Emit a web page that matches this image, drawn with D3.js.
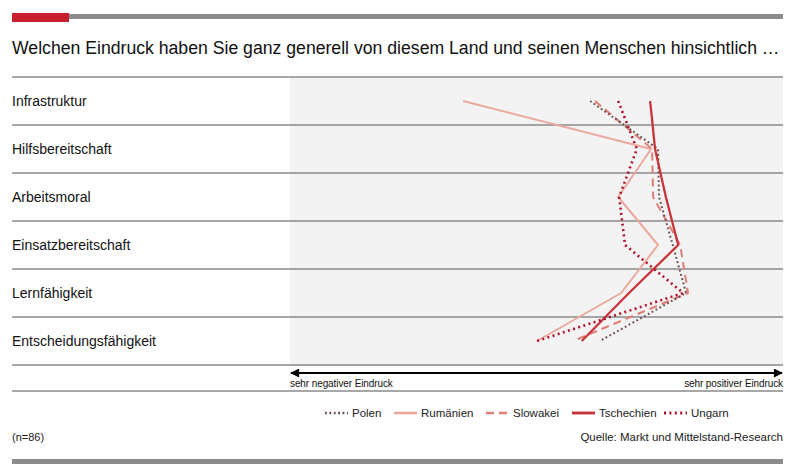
<!DOCTYPE html>
<html>
<head>
<meta charset="utf-8">
<script src="https://cdn.jsdelivr.net/npm/d3@7"></script>
<style>
  html, body { margin: 0; padding: 0; background: #fff; }
  svg { display: block; font-family: "Liberation Sans", Arial, sans-serif; }
</style>
</head>
<body>
<svg id="chart" width="800" height="476"></svg>
<script>
  // ─── Data ───
  const categories = ['Infrastruktur', 'Hilfsbereitschaft', 'Arbeitsmoral', 'Einsatzbereitschaft', 'Lernfähigkeit', 'Entscheidungsfähigkeit'];
  // Position on the scale 0 = sehr negativer Eindruck, 100 = sehr positiver Eindruck
  const polen      = [61.0, 74.8, 75.0, 77.8, 80.5, 63.0];
  const rumaenien  = [35.2, 73.4, 66.7, 74.8, 67.3, 50.2];
  const slowakei   = [62.0, 73.6, 73.8, 79.3, 80.9, 57.5];
  const tschechien = [73.2, 74.2, 76.4, 78.9, 68.9, 59.3];
  const ungarn     = [66.7, 70.5, 66.9, 68.1, 79.9, 50.2];
  const seriesNames = ['Polen', 'Rumänien', 'Slowakei', 'Tschechien', 'Ungarn'];
  const axisLabels = ['sehr negativer Eindruck', 'sehr positiver Eindruck'];

  const title = 'Welchen Eindruck haben Sie ganz generell von diesem Land und seinen Menschen hinsichtlich …';

  // line styles per series
  const styles = {
    'Polen':      { color: '#6a4c4c', width: 2,   dash: '1.8,2.6' },
    'Rumänien':   { color: '#eba99d', width: 2,   dash: null },
    'Slowakei':   { color: '#e07f78', width: 2,   dash: '8,5' },
    'Tschechien': { color: '#c9343b', width: 2.3, dash: null },
    'Ungarn':     { color: '#b3122d', width: 2.6, dash: '2,3.4' }
  };
  const seriesValues = { 'Polen': polen, 'Rumänien': rumaenien, 'Slowakei': slowakei, 'Tschechien': tschechien, 'Ungarn': ungarn };
  const drawOrder = ['Rumänien', 'Slowakei', 'Polen', 'Tschechien', 'Ungarn'];

  const svg = d3.select('#chart');
  const edgeL = 12, edgeR = 783, plotL = 290;
  const rowsTop = 77, rowH = 48;

  // ─── Header ───
  svg.append('rect').attr('x', edgeL).attr('y', 14).attr('width', edgeR - edgeL).attr('height', 5).attr('fill', '#8c8c8c');
  svg.append('rect').attr('x', edgeL).attr('y', 13).attr('width', 57).attr('height', 9).attr('fill', '#c8202f');

  const titleText = svg.append('text')
    .attr('x', edgeL).attr('y', 54)
    .attr('font-size', 16).attr('fill', '#111')
    .text(title);
  const tw = titleText.node().getComputedTextLength();
  titleText.attr('font-size', 16 * 768 / tw);

  // ─── Scales ───
  const y = d3.scaleBand().domain(categories).range([rowsTop, rowsTop + rowH * categories.length]);
  const x = d3.scaleLinear().domain([0, 100]).range([plotL, 782]);

  // background panel
  svg.append('rect')
    .attr('x', plotL).attr('y', rowsTop)
    .attr('width', edgeR - plotL).attr('height', y.range()[1] - rowsTop + 1)
    .attr('fill', '#f3f3f3');

  // row separators
  const sepY = [rowsTop].concat(categories.map(c => y(c) + y.bandwidth()));
  svg.selectAll('line.sep').data(sepY).enter().append('line')
    .attr('class', 'sep')
    .attr('x1', edgeL).attr('x2', edgeR)
    .attr('y1', d => d).attr('y2', d => d)
    .attr('stroke', '#8a8a8a').attr('stroke-width', 1.5);

  // row labels
  svg.selectAll('text.cat').data(categories).enter().append('text')
    .attr('class', 'cat')
    .attr('x', edgeL).attr('y', d => y(d) + y.bandwidth() / 2 + 5)
    .attr('font-size', 14).attr('fill', '#111')
    .text(d => d);

  // ─── Lines ───
  const line = d3.line()
    .x(d => x(d.v))
    .y(d => y(d.c) + y.bandwidth() / 2);

  drawOrder.forEach(name => {
    const st = styles[name];
    const pts = seriesValues[name].map((v, i) => ({ c: categories[i], v: v }));
    svg.append('path')
      .datum(pts)
      .attr('d', line)
      .attr('fill', 'none')
      .attr('stroke', st.color)
      .attr('stroke-width', st.width)
      .attr('stroke-dasharray', st.dash)
      .attr('stroke-linejoin', 'round');
  });

  // ─── Axis arrow ───
  const axisY = 373;
  const defs = svg.append('defs');
  defs.append('marker')
    .attr('id', 'arrow').attr('viewBox', '0 0 10 10')
    .attr('refX', 9).attr('refY', 5)
    .attr('markerWidth', 6).attr('markerHeight', 5)
    .attr('markerUnits', 'strokeWidth')
    .attr('orient', 'auto-start-reverse')
    .append('path').attr('d', 'M0,0 L10,5 L0,10 z').attr('fill', '#000');

  svg.append('line')
    .attr('x1', x(0) + 1).attr('x2', edgeR - 1)
    .attr('y1', axisY).attr('y2', axisY)
    .attr('stroke', '#000').attr('stroke-width', 1.8)
    .attr('marker-start', 'url(#arrow)').attr('marker-end', 'url(#arrow)');

  svg.append('text').attr('x', x(0)).attr('y', 387)
    .attr('font-size', 10).attr('letter-spacing', -0.1).attr('fill', '#111')
    .text(axisLabels[0]);
  svg.append('text').attr('x', edgeR).attr('y', 387)
    .attr('text-anchor', 'end')
    .attr('font-size', 10).attr('letter-spacing', -0.1).attr('fill', '#111')
    .text(axisLabels[1]);

  svg.append('line')
    .attr('x1', edgeL).attr('x2', edgeR).attr('y1', 391).attr('y2', 391)
    .attr('stroke', '#8a8a8a').attr('stroke-width', 1.5);

  // ─── Legend ───
  const legendX = [325, 394, 486, 572, 664];
  const legend = svg.selectAll('g.leg').data(seriesNames).enter().append('g')
    .attr('class', 'leg')
    .attr('transform', (d, i) => `translate(${legendX[i]},413)`);
  legend.append('line')
    .attr('x1', 0).attr('x2', 23).attr('y1', 0).attr('y2', 0)
    .attr('stroke', d => styles[d].color)
    .attr('stroke-width', d => styles[d].width + 0.6)
    .attr('stroke-dasharray', d => styles[d].dash);
  legend.append('text')
    .attr('x', 27).attr('y', 4)
    .attr('font-size', 11.5).attr('fill', '#222')
    .text(d => d);

  // ─── Footer ───
  svg.append('text').attr('x', edgeL).attr('y', 441)
    .attr('font-size', 11).attr('fill', '#222').text('(n=86)');
  svg.append('text').attr('x', edgeR).attr('y', 441)
    .attr('text-anchor', 'end')
    .attr('font-size', 11.5).attr('fill', '#222').text('Quelle: Markt und Mittelstand-Research');
  svg.append('rect').attr('x', edgeL).attr('y', 459).attr('width', edgeR - edgeL).attr('height', 5).attr('fill', '#8c8c8c');
</script>
</body>
</html>
